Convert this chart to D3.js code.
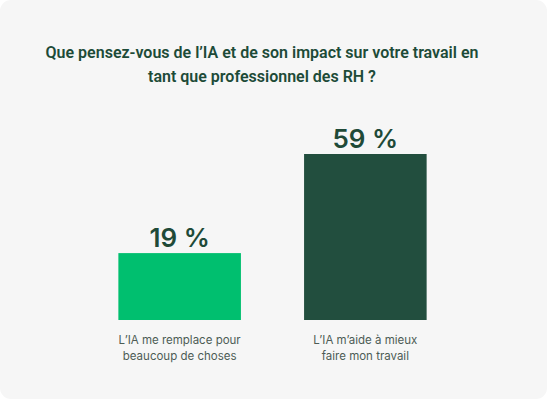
<!DOCTYPE html>
<html>
<head>
<meta charset="utf-8">
<script src="https://cdn.jsdelivr.net/npm/d3@7"></script>
<style>
  html, body { margin: 0; padding: 0; background: #ffffff; }
  svg { display: block; }
  text { font-family: Inter, "Noto Sans", sans-serif; }
</style>
</head>
<body>
<script>
const titleLines = ["Que pensez-vous de l\u2019IA et de son impact sur votre travail en", "tant que professionnel des RH ?"];
const categories = ["L\u2019IA me remplace pour beaucoup de choses", "L\u2019IA m\u2019aide \u00e0 mieux faire mon travail"];
const categoryLines = [["L\u2019IA me remplace pour", "beaucoup de choses"], ["L\u2019IA m\u2019aide \u00e0 mieux", "faire mon travail"]];
const values = [19, 59];
const valueLabels = ["19 %", "59 %"];
const barColors = ["#00bf6f", "#224e3e"];

const W = 547, H = 400;
const svg = d3.select("body").append("svg").attr("width", W).attr("height", H);

svg.append("rect").attr("x", 0).attr("y", 0).attr("width", W).attr("height", H - 1)
  .attr("rx", 11).attr("fill", "#f6f6f6");

const title = svg.append("text").attr("text-anchor", "middle")
  .attr("fill", "#1d4b38").attr("font-size", 16).attr("font-weight", 600)
  .style("font-family", "Roboto, sans-serif");
titleLines.forEach((t, i) => {
  title.append("tspan").attr("x", 262).attr("y", 58 + i * 23.5).text(t);
});

const x = d3.scaleBand().domain(categories).range([86.8, 458.2]).paddingInner(0.34).paddingOuter(0.17);
const y = d3.scaleLinear().domain([-8, 59]).range([320, 154]);

const g = svg.append("g");
g.selectAll("rect.bar").data(values).join("rect").attr("class", "bar")
  .attr("x", (d, i) => x(categories[i]))
  .attr("width", x.bandwidth())
  .attr("y", d => y(d))
  .attr("height", d => y(-8) - y(d))
  .attr("fill", (d, i) => barColors[i]);

g.selectAll("text.val").data(values).join("text").attr("class", "val")
  .attr("x", (d, i) => x(categories[i]) + x.bandwidth() / 2)
  .attr("y", d => y(d) - 6)
  .attr("text-anchor", "middle")
  .attr("fill", "#1f4a38").attr("font-size", 26).attr("font-weight", 600)
  .text((d, i) => valueLabels[i]);

categoryLines.forEach((lines, i) => {
  const t = g.append("text").attr("text-anchor", "middle")
    .attr("fill", "#4d5c55").attr("font-size", 11.5);
  lines.forEach((l, j) => {
    t.append("tspan").attr("x", x(categories[i]) + x.bandwidth() / 2).attr("y", 344 + j * 16).text(l);
  });
});
</script>
</body>
</html>
